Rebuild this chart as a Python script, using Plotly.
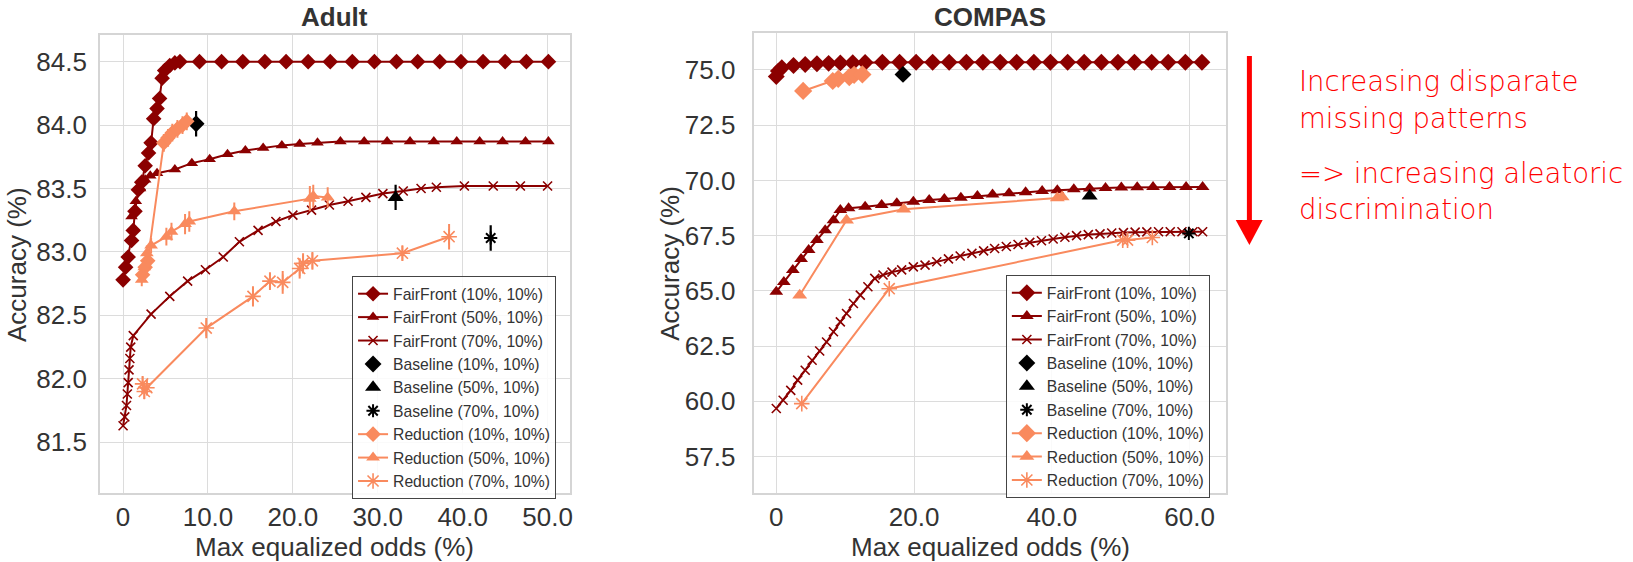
import plotly.graph_objects as go

W, H = 1633, 562

# ---------------- DATA ----------------
# Adult
ad_ff10_x = [0.0, 0.3, 0.6, 1.0, 1.2, 1.4, 1.8, 2.2, 2.6, 3.0, 3.3, 3.6, 4.0, 4.3, 4.6, 4.9, 5.5, 6.1, 6.7,
             9.0, 11.6, 14.1, 16.7, 19.2, 21.8, 24.4, 27.0, 29.6, 32.2, 34.7, 37.3, 39.8, 42.4, 45.0, 47.5, 50.1]
ad_ff10_y = [82.78, 82.88, 82.96, 83.09, 83.17, 83.32, 83.49, 83.55, 83.68, 83.78, 83.86, 84.05, 84.13, 84.21,
             84.37, 84.43, 84.47, 84.49, 84.50] + [84.50] * 17

ad_ff50_x = [1.0, 1.5, 2.0, 2.6, 3.2, 4.0, 6.1, 8.1, 10.2, 12.3, 14.4, 16.5, 18.7, 20.8, 22.9, 25.6, 28.4,
             31.1, 33.8, 36.6, 39.3, 42.0, 44.7, 47.4, 50.1]
ad_ff50_y = [83.28, 83.40, 83.50, 83.57, 83.60, 83.62, 83.65, 83.70, 83.73, 83.77, 83.80, 83.82, 83.84,
             83.85, 83.86, 83.87] + [83.87] * 9

ad_ff70_x = [0.0, 0.2, 0.4, 0.5, 0.6, 0.7, 0.8, 0.9, 1.2, 3.3, 5.5, 7.6, 9.7, 11.8, 13.7, 15.9, 18.0, 20.0,
             22.2, 24.3, 26.5, 28.6, 30.6, 33.0, 35.1, 36.9, 40.2, 43.6, 46.8, 50.0]
ad_ff70_y = [81.63, 81.70, 81.79, 81.88, 81.97, 82.07, 82.16, 82.25, 82.34, 82.51, 82.65, 82.77, 82.86,
             82.96, 83.08, 83.17, 83.24, 83.29, 83.33, 83.37, 83.40, 83.43, 83.46, 83.48, 83.50, 83.51,
             83.52, 83.52, 83.52, 83.52]

ad_b10_x, ad_b10_y, ad_b10_e = [8.6], [84.01], [0.10]
ad_b50_x, ad_b50_y, ad_b50_e = [32.1], [83.43], [0.10]
ad_b70_x, ad_b70_y, ad_b70_e = [43.3], [83.11], [0.10]

ad_r10_x = [2.3, 2.6, 2.9, 4.8, 5.3, 5.8, 6.4, 7.0, 7.5]
ad_r10_y = [82.82, 82.88, 82.93, 83.86, 83.90, 83.94, 83.97, 84.00, 84.03]
ad_r10_e = [0.05, 0.05, 0.05, 0.07, 0.07, 0.07, 0.07, 0.07, 0.07]

ad_r50_x = [2.2, 2.5, 2.8, 3.3, 5.1, 5.7, 7.3, 7.8, 13.1, 22.0, 22.4, 24.1]
ad_r50_y = [82.78, 82.88, 82.99, 83.05, 83.12, 83.16, 83.22, 83.24, 83.32, 83.42, 83.44, 83.43]
ad_r50_e = [0.05, 0.05, 0.06, 0.06, 0.07, 0.07, 0.08, 0.08, 0.07, 0.10, 0.09, 0.08]

ad_r70_x = [2.3, 2.5, 2.8, 9.8, 15.3, 17.3, 18.8, 20.8, 21.2, 22.3, 32.9, 38.4]
ad_r70_y = [81.96, 81.90, 81.93, 82.40, 82.65, 82.77, 82.76, 82.87, 82.91, 82.93, 82.99, 83.12]
ad_r70_e = [0.06, 0.06, 0.06, 0.08, 0.08, 0.07, 0.09, 0.08, 0.08, 0.07, 0.06, 0.10]

# COMPAS
co_ff10_x = [0.0, 0.3, 0.8, 2.5, 4.2, 5.9, 7.6, 9.3, 11.1, 12.9, 15.4, 17.9, 20.3, 22.7, 25.1, 27.6, 30.0,
             32.5, 34.9, 37.4, 39.8, 42.3, 44.7, 47.2, 49.6, 52.0, 54.5, 56.9, 59.4, 61.8]
co_ff10_y = [74.70, 74.95, 75.10, 75.20, 75.25, 75.28, 75.30, 75.32, 75.33, 75.34] + [75.35] * 20

co_ff50_x = [0.0, 1.1, 2.4, 3.6, 4.7, 5.9, 7.1, 8.3, 9.3, 10.5, 12.9, 15.3, 17.5, 19.9, 22.2, 24.4, 26.8,
             29.2, 31.4, 33.8, 36.2, 38.6, 40.8, 43.2, 45.5, 47.8, 50.1, 52.4, 54.7, 57.1, 59.5, 61.9]
co_ff50_y = [64.96, 65.40, 65.95, 66.45, 66.85, 67.30, 67.75, 68.20, 68.66, 68.74, 68.81, 68.89, 68.97,
             69.04, 69.11, 69.16, 69.22, 69.30, 69.36, 69.42, 69.47, 69.52, 69.56, 69.60, 69.63, 69.66,
             69.68, 69.69, 69.70, 69.70, 69.70, 69.70]

co_ff70_x = [0.0, 1.0, 2.1, 3.1, 4.2, 5.2, 6.3, 7.3, 8.3, 9.3, 10.2, 11.2, 12.2, 13.3, 14.3, 15.5, 16.8,
             18.2, 19.9, 21.6, 23.3, 25.0, 26.7, 28.4, 30.1, 31.7, 33.4, 35.1, 36.8, 38.5, 40.2, 41.9,
             43.6, 45.3, 47.0, 48.7, 50.4, 52.1, 53.8, 55.5, 57.2, 58.9, 60.5, 61.9]
co_ff70_y = [59.68, 60.05, 60.50, 60.96, 61.41, 61.86, 62.28, 62.69, 63.15, 63.60, 63.98, 64.43, 64.81,
             65.19, 65.57, 65.72, 65.85, 65.95, 66.09, 66.17, 66.32, 66.45, 66.58, 66.70, 66.81, 66.92,
             67.01, 67.10, 67.20, 67.27, 67.35, 67.43, 67.50, 67.55, 67.58, 67.62, 67.64, 67.66, 67.67,
             67.68, 67.68, 67.68, 67.68, 67.68]

co_b10_x, co_b10_y, co_b10_e = [18.4], [74.80], [0.10]
co_b50_x, co_b50_y, co_b50_e = [45.5], [69.30], [0.10]
co_b70_x, co_b70_y, co_b70_e = [59.9], [67.60], [0.10]

co_r10_x = [3.9, 8.2, 9.0, 10.6, 11.3, 12.5]
co_r10_y = [74.05, 74.50, 74.60, 74.68, 74.78, 74.80]
co_r50_x = [3.4, 10.2, 18.5, 40.8, 41.5]
co_r50_y = [64.80, 68.20, 68.70, 69.20, 69.25]
co_r70_x = [3.7, 16.4, 50.3, 51.0, 54.6]
co_r70_y = [59.90, 65.10, 67.30, 67.30, 67.42]

ad_xticks = [0, 10, 20, 30, 40, 50]
ad_xticklabels = ["0", "10.0", "20.0", "30.0", "40.0", "50.0"]
ad_yticks = [81.5, 82.0, 82.5, 83.0, 83.5, 84.0, 84.5]
co_xticks = [0, 20, 40, 60]
co_xticklabels = ["0", "20.0", "40.0", "60.0"]
co_yticks = [57.5, 60.0, 62.5, 65.0, 67.5, 70.0, 72.5, 75.0]

names = ["FairFront (10%, 10%)", "FairFront (50%, 10%)", "FairFront (70%, 10%)",
         "Baseline (10%, 10%)", "Baseline (50%, 10%)", "Baseline (70%, 10%)",
         "Reduction (10%, 10%)", "Reduction (50%, 10%)", "Reduction (70%, 10%)"]
titles = ["Adult", "COMPAS"]
x_title = "Max equalized odds (%)"
y_title = "Accuracy (%)"
note_lines = ["Increasing disparate", "missing patterns", "=> increasing aleatoric", "discrimination"]

# ---------------- STYLE ----------------
DARK = "#8B0000"
CORAL = "#F98A5E"
BLACK = "#000000"
FONT = "Liberation Sans"
TXT = "#333333"

fig = go.Figure()


def px2x(p):
    return p / W


def px2y(p):
    return 1 - p / H


def add_line(x, y, name, color, symbol, size, ax, leg, err=None, open_sym=False):
    marker = dict(symbol=symbol, size=size, color=color,
                  line=dict(color=color, width=1.6 if open_sym else 0))
    kw = {}
    if err is not None:
        kw["error_y"] = dict(type="data", array=err, visible=True, color=color, thickness=2, width=0)
    fig.add_trace(go.Scatter(x=x, y=y, name=name, mode="lines+markers",
                             line=dict(color=color, width=2), marker=marker,
                             xaxis="x" + ax, yaxis="y" + ax, legend=leg, legendgroup=leg + name, **kw))


def add_point(x, y, err, name, symbol, size, ax, leg, open_sym=False):
    marker = dict(symbol=symbol, size=size, color=BLACK,
                  line=dict(color=BLACK, width=2 if open_sym else 0))
    fig.add_trace(go.Scatter(x=x, y=y, name=name, mode="markers", marker=marker,
                             error_y=dict(type="data", array=err, visible=True, color=BLACK,
                                          thickness=2.2, width=0),
                             xaxis="x" + ax, yaxis="y" + ax, legend=leg, legendgroup=leg + name))


# Adult (axis 1)
add_line(ad_ff10_x, ad_ff10_y, names[0], DARK, "diamond", 12, "", "legend")
add_line(ad_ff50_x, ad_ff50_y, names[1], DARK, "triangle-up", 11, "", "legend")
add_line(ad_ff70_x, ad_ff70_y, names[2], DARK, "x-thin-open", 9, "", "legend", open_sym=True)
add_point(ad_b10_x, ad_b10_y, ad_b10_e, names[3], "diamond", 13, "", "legend")
add_point(ad_b50_x, ad_b50_y, ad_b50_e, names[4], "triangle-up", 14, "", "legend")
add_point(ad_b70_x, ad_b70_y, ad_b70_e, names[5], "asterisk-open", 11, "", "legend", open_sym=True)
add_line(ad_r10_x, ad_r10_y, names[6], CORAL, "diamond", 12, "", "legend", err=ad_r10_e)
add_line(ad_r50_x, ad_r50_y, names[7], CORAL, "triangle-up", 12, "", "legend", err=ad_r50_e)
add_line(ad_r70_x, ad_r70_y, names[8], CORAL, "asterisk-open", 13, "", "legend", err=ad_r70_e, open_sym=True)

# COMPAS (axis 2)
add_line(co_ff10_x, co_ff10_y, names[0], DARK, "diamond", 13, "2", "legend2")
add_line(co_ff50_x, co_ff50_y, names[1], DARK, "triangle-up", 12, "2", "legend2")
add_line(co_ff70_x, co_ff70_y, names[2], DARK, "x-thin-open", 9, "2", "legend2", open_sym=True)
add_point(co_b10_x, co_b10_y, co_b10_e, names[3], "diamond", 13, "2", "legend2")
add_point(co_b50_x, co_b50_y, co_b50_e, names[4], "triangle-up", 14, "2", "legend2")
add_point(co_b70_x, co_b70_y, co_b70_e, names[5], "asterisk-open", 11, "2", "legend2", open_sym=True)
add_line(co_r10_x, co_r10_y, names[6], CORAL, "diamond", 14, "2", "legend2")
add_line(co_r50_x, co_r50_y, names[7], CORAL, "triangle-up", 13, "2", "legend2")
add_line(co_r70_x, co_r70_y, names[8], CORAL, "asterisk-open", 13, "2", "legend2", open_sym=True)

axis_common = dict(showgrid=True, gridcolor="#DCDCDC", gridwidth=1.3, showline=True, linecolor="#D5D5D5",
                   linewidth=1.5, mirror=True, zeroline=False, ticks="",
                   tickfont=dict(family=FONT, size=26, color=TXT))

legend_common = dict(font=dict(family=FONT, size=15.7, color=TXT), bgcolor="rgba(255,255,255,0.85)",
                     bordercolor="#444444", borderwidth=1, xanchor="left", yanchor="top",
                     tracegroupgap=0, itemsizing="trace")

fig.update_layout(
    width=W, height=H, margin=dict(l=0, r=0, t=0, b=0),
    paper_bgcolor="white", plot_bgcolor="white", showlegend=True,
    xaxis=dict(domain=[px2x(100), px2x(570.7)], range=[-2.74, 52.6], tickvals=ad_xticks,
               ticktext=ad_xticklabels, anchor="y", ticklabelstandoff=0, **axis_common),
    yaxis=dict(domain=[px2y(493), px2y(35)], range=[81.10, 84.71], tickvals=ad_yticks,
               tickformat=".1f", anchor="x", ticklabelstandoff=6, **axis_common),
    xaxis2=dict(domain=[px2x(755.7), px2x(1228.3)], range=[-3.19, 65.3], tickvals=co_xticks,
                ticktext=co_xticklabels, anchor="y2", ticklabelstandoff=0, **axis_common),
    yaxis2=dict(domain=[px2y(493.3), px2y(33.3)], range=[55.84, 76.66], tickvals=co_yticks,
                tickformat=".1f", anchor="x2", ticklabelstandoff=12, **axis_common),
    legend=dict(x=px2x(352.7), y=px2y(276), **legend_common),
    legend2=dict(x=px2x(1007.7), y=px2y(275), **legend_common),
)

ann = []
# subplot titles
for t, cx in zip(titles, [335.3, 992.0]):
    ann.append(dict(text="<b>" + t + "</b>", x=px2x(cx), y=px2y(17.5), xref="paper", yref="paper",
                    xanchor="center", yanchor="middle", showarrow=False,
                    font=dict(family=FONT, size=26, color=TXT)))
# axis titles
for cx in [335.3, 992.0]:
    ann.append(dict(text=x_title, x=px2x(cx), y=px2y(547), xref="paper", yref="paper",
                    xanchor="center", yanchor="middle", showarrow=False,
                    font=dict(family=FONT, size=26, color=TXT)))
for cx, cy in [(17, 264), (671, 263)]:
    ann.append(dict(text=y_title, x=px2x(cx), y=px2y(cy), xref="paper", yref="paper",
                    xanchor="center", yanchor="middle", showarrow=False, textangle=-90,
                    font=dict(family=FONT, size=26, color=TXT)))
# red note
for line, cy in zip(note_lines, [81, 118, 173, 209]):
    ann.append(dict(text=line, x=px2x(1300), y=px2y(cy), xref="paper", yref="paper",
                    xanchor="left", yanchor="middle", showarrow=False, borderpad=0,
                    font=dict(family="DejaVu Sans", size=27.5, color="#FF0000", weight=200)))
fig.update_layout(annotations=ann)

# red arrow
fig.add_shape(type="line", xref="paper", yref="paper", x0=px2x(1251.7), x1=px2x(1251.7),
              y0=px2y(56), y1=px2y(224), line=dict(color="#FF0000", width=5))
fig.add_shape(type="path", xref="paper", yref="paper",
              path=f"M {px2x(1238)},{px2y(220)} L {px2x(1265)},{px2y(220)} L {px2x(1251.7)},{px2y(245)} Z",
              fillcolor="#FF0000", line=dict(color="#FF0000", width=0))

fig.write_html("out.html", config={"displayModeBar": False},
               post_script="document.body.style.margin='0px';")
